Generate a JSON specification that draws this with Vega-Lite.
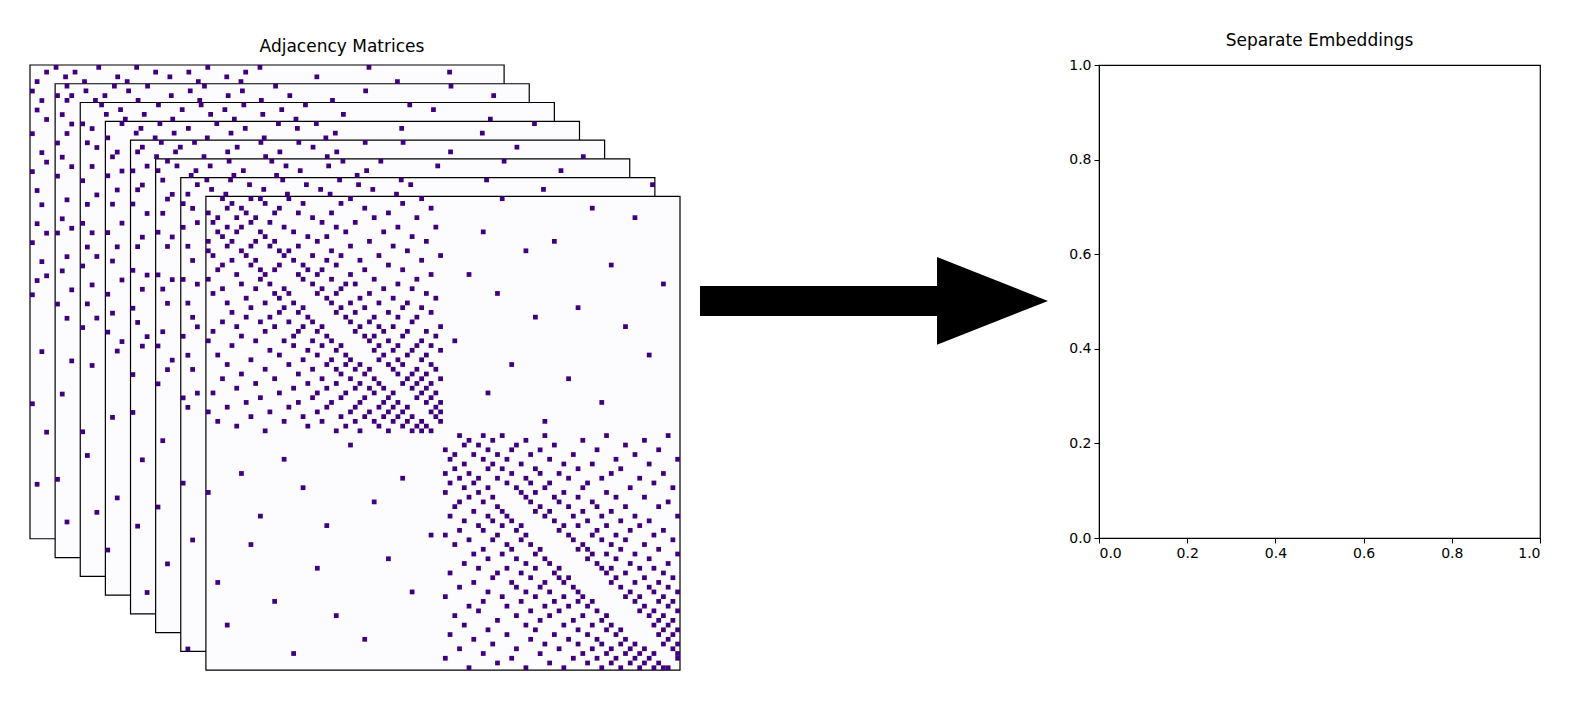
{
  "$schema": "https://vega.github.io/schema/vega-lite/v6.json",
  "padding": {"left": 29, "top": 31, "right": 0, "bottom": 0},
  "background": "white",
  "config": {"view": {"stroke": null}, "font": "DejaVu Sans", "title": {"fontSize": 17, "fontWeight": "normal", "color": "black", "offset": 8}},
  "spacing": 19,
  "datasets": {
    "edges": [
      {"k":0,"i":0,"j":5},{"k":0,"i":0,"j":14},{"k":0,"i":0,"j":22},{"k":0,"i":0,"j":37},{"k":0,"i":0,"j":48},{"k":0,"i":0,"j":71},
      {"k":0,"i":1,"j":3},{"k":0,"i":1,"j":9},{"k":0,"i":1,"j":26},{"k":0,"i":1,"j":33},{"k":0,"i":1,"j":45},{"k":0,"i":1,"j":88},
      {"k":0,"i":2,"j":7},{"k":0,"i":2,"j":18},{"k":0,"i":2,"j":29},{"k":0,"i":2,"j":41},{"k":0,"i":2,"j":60},
      {"k":0,"i":3,"j":11},{"k":0,"i":3,"j":20},{"k":0,"i":3,"j":35},{"k":0,"i":3,"j":44},{"k":0,"i":3,"j":77},
      {"k":1,"i":0,"j":2},{"k":1,"i":0,"j":12},{"k":1,"i":0,"j":19},{"k":1,"i":0,"j":31},{"k":1,"i":0,"j":46},{"k":1,"i":0,"j":83},
      {"k":1,"i":1,"j":6},{"k":1,"i":1,"j":15},{"k":1,"i":1,"j":28},{"k":1,"i":1,"j":39},{"k":1,"i":1,"j":65},
      {"k":1,"i":2,"j":3},{"k":1,"i":2,"j":10},{"k":1,"i":2,"j":24},{"k":1,"i":2,"j":36},{"k":1,"i":2,"j":49},{"k":1,"i":2,"j":92},
      {"k":1,"i":3,"j":8},{"k":1,"i":3,"j":17},{"k":1,"i":3,"j":30},{"k":1,"i":3,"j":43},{"k":1,"i":3,"j":58},
      {"k":2,"i":0,"j":4},{"k":2,"i":0,"j":16},{"k":2,"i":0,"j":25},{"k":2,"i":0,"j":34},{"k":2,"i":0,"j":47},{"k":2,"i":0,"j":69},
      {"k":2,"i":1,"j":8},{"k":2,"i":1,"j":21},{"k":2,"i":1,"j":30},{"k":2,"i":1,"j":42},{"k":2,"i":1,"j":74},
      {"k":2,"i":2,"j":5},{"k":2,"i":2,"j":13},{"k":2,"i":2,"j":27},{"k":2,"i":2,"j":38},{"k":2,"i":2,"j":55},
      {"k":2,"i":3,"j":9},{"k":2,"i":3,"j":19},{"k":2,"i":3,"j":32},{"k":2,"i":3,"j":45},{"k":2,"i":3,"j":86},
      {"k":3,"i":0,"j":3},{"k":3,"i":0,"j":11},{"k":3,"i":0,"j":23},{"k":3,"i":0,"j":36},{"k":3,"i":0,"j":44},{"k":3,"i":0,"j":90},
      {"k":3,"i":1,"j":7},{"k":3,"i":1,"j":17},{"k":3,"i":1,"j":29},{"k":3,"i":1,"j":40},{"k":3,"i":1,"j":62},
      {"k":3,"i":2,"j":6},{"k":3,"i":2,"j":14},{"k":3,"i":2,"j":26},{"k":3,"i":2,"j":48},{"k":3,"i":2,"j":79},
      {"k":3,"i":3,"j":10},{"k":3,"i":3,"j":21},{"k":3,"i":3,"j":33},{"k":3,"i":3,"j":46},
      {"k":4,"i":0,"j":6},{"k":4,"i":0,"j":13},{"k":4,"i":0,"j":27},{"k":4,"i":0,"j":35},{"k":4,"i":0,"j":49},{"k":4,"i":0,"j":57},
      {"k":4,"i":1,"j":2},{"k":4,"i":1,"j":10},{"k":4,"i":1,"j":22},{"k":4,"i":1,"j":38},{"k":4,"i":1,"j":81},
      {"k":4,"i":2,"j":9},{"k":4,"i":2,"j":20},{"k":4,"i":2,"j":31},{"k":4,"i":2,"j":43},{"k":4,"i":2,"j":67},
      {"k":4,"i":3,"j":5},{"k":4,"i":3,"j":15},{"k":4,"i":3,"j":28},{"k":4,"i":3,"j":41},{"k":4,"i":3,"j":95},
      {"k":5,"i":0,"j":2},{"k":5,"i":0,"j":15},{"k":5,"i":0,"j":24},{"k":5,"i":0,"j":39},{"k":5,"i":0,"j":47},{"k":5,"i":0,"j":73},
      {"k":5,"i":1,"j":4},{"k":5,"i":1,"j":11},{"k":5,"i":1,"j":27},{"k":5,"i":1,"j":36},{"k":5,"i":1,"j":59},
      {"k":5,"i":2,"j":8},{"k":5,"i":2,"j":18},{"k":5,"i":2,"j":30},{"k":5,"i":2,"j":44},{"k":5,"i":2,"j":85},
      {"k":5,"i":3,"j":7},{"k":5,"i":3,"j":16},{"k":5,"i":3,"j":25},{"k":5,"i":3,"j":42},
      {"k":6,"i":0,"j":5},{"k":6,"i":0,"j":10},{"k":6,"i":0,"j":21},{"k":6,"i":0,"j":33},{"k":6,"i":0,"j":46},{"k":6,"i":0,"j":64},
      {"k":6,"i":1,"j":3},{"k":6,"i":1,"j":14},{"k":6,"i":1,"j":26},{"k":6,"i":1,"j":37},{"k":6,"i":1,"j":48},{"k":6,"i":1,"j":99},
      {"k":6,"i":2,"j":6},{"k":6,"i":2,"j":17},{"k":6,"i":2,"j":29},{"k":6,"i":2,"j":40},{"k":6,"i":2,"j":76},
      {"k":6,"i":3,"j":9},{"k":6,"i":3,"j":22},{"k":6,"i":3,"j":31},{"k":6,"i":3,"j":45},
      {"k":7,"i":0,"j":3},{"k":7,"i":0,"j":9},{"k":7,"i":0,"j":11},{"k":7,"i":0,"j":17},{"k":7,"i":0,"j":30},{"k":7,"i":0,"j":45},{"k":7,"i":0,"j":62},
      {"k":7,"i":1,"j":5},{"k":7,"i":1,"j":12},{"k":7,"i":1,"j":20},{"k":7,"i":1,"j":28},{"k":7,"i":1,"j":41},
      {"k":7,"i":2,"j":4},{"k":7,"i":2,"j":7},{"k":7,"i":2,"j":15},{"k":7,"i":2,"j":33},{"k":7,"i":2,"j":47},{"k":7,"i":2,"j":81},
      {"k":7,"i":3,"j":8},{"k":7,"i":3,"j":14},{"k":7,"i":3,"j":19},{"k":7,"i":3,"j":26},{"k":7,"i":3,"j":38},
      {"k":7,"i":4,"j":6},{"k":7,"i":4,"j":10},{"k":7,"i":4,"j":22},{"k":7,"i":4,"j":35},{"k":7,"i":4,"j":44},{"k":7,"i":4,"j":90},
      {"k":7,"i":5,"j":9},{"k":7,"i":5,"j":13},{"k":7,"i":5,"j":24},{"k":7,"i":5,"j":31},
      {"k":7,"i":6,"j":7},{"k":7,"i":6,"j":16},{"k":7,"i":6,"j":27},{"k":7,"i":6,"j":40},{"k":7,"i":6,"j":48},
      {"k":7,"i":7,"j":11},{"k":7,"i":7,"j":18},{"k":7,"i":7,"j":29},{"k":7,"i":7,"j":37},{"k":7,"i":7,"j":58},
      {"k":7,"i":8,"j":12},{"k":7,"i":8,"j":21},{"k":7,"i":8,"j":25},{"k":7,"i":8,"j":43},
      {"k":7,"i":9,"j":10},{"k":7,"i":9,"j":14},{"k":7,"i":9,"j":23},{"k":7,"i":9,"j":34},{"k":7,"i":9,"j":46},{"k":7,"i":9,"j":73},
      {"k":7,"i":10,"j":13},{"k":7,"i":10,"j":19},{"k":7,"i":10,"j":30},{"k":7,"i":10,"j":39},
      {"k":7,"i":11,"j":15},{"k":7,"i":11,"j":17},{"k":7,"i":11,"j":26},{"k":7,"i":11,"j":42},{"k":7,"i":11,"j":67},
      {"k":7,"i":12,"j":16},{"k":7,"i":12,"j":22},{"k":7,"i":12,"j":28},{"k":7,"i":12,"j":36},{"k":7,"i":12,"j":49},
      {"k":7,"i":13,"j":18},{"k":7,"i":13,"j":25},{"k":7,"i":13,"j":32},{"k":7,"i":13,"j":45},
      {"k":7,"i":14,"j":15},{"k":7,"i":14,"j":20},{"k":7,"i":14,"j":27},{"k":7,"i":14,"j":38},{"k":7,"i":14,"j":85},
      {"k":7,"i":15,"j":21},{"k":7,"i":15,"j":24},{"k":7,"i":15,"j":33},{"k":7,"i":15,"j":41},
      {"k":7,"i":16,"j":19},{"k":7,"i":16,"j":23},{"k":7,"i":16,"j":30},{"k":7,"i":16,"j":47},{"k":7,"i":16,"j":55},
      {"k":7,"i":17,"j":20},{"k":7,"i":17,"j":26},{"k":7,"i":17,"j":35},{"k":7,"i":17,"j":44},
      {"k":7,"i":18,"j":22},{"k":7,"i":18,"j":29},{"k":7,"i":18,"j":31},{"k":7,"i":18,"j":40},{"k":7,"i":18,"j":96},
      {"k":7,"i":19,"j":24},{"k":7,"i":19,"j":28},{"k":7,"i":19,"j":37},{"k":7,"i":19,"j":43},
      {"k":7,"i":20,"j":23},{"k":7,"i":20,"j":27},{"k":7,"i":20,"j":34},{"k":7,"i":20,"j":46},{"k":7,"i":20,"j":61},
      {"k":7,"i":21,"j":25},{"k":7,"i":21,"j":32},{"k":7,"i":21,"j":39},{"k":7,"i":21,"j":48},
      {"k":7,"i":22,"j":26},{"k":7,"i":22,"j":30},{"k":7,"i":22,"j":36},{"k":7,"i":22,"j":42},
      {"k":7,"i":23,"j":28},{"k":7,"i":23,"j":33},{"k":7,"i":23,"j":41},{"k":7,"i":23,"j":45},{"k":7,"i":23,"j":78},
      {"k":7,"i":24,"j":27},{"k":7,"i":24,"j":31},{"k":7,"i":24,"j":38},{"k":7,"i":24,"j":47},
      {"k":7,"i":25,"j":29},{"k":7,"i":25,"j":35},{"k":7,"i":25,"j":40},{"k":7,"i":25,"j":44},{"k":7,"i":25,"j":69},
      {"k":7,"i":26,"j":30},{"k":7,"i":26,"j":34},{"k":7,"i":26,"j":43},
      {"k":7,"i":27,"j":32},{"k":7,"i":27,"j":36},{"k":7,"i":27,"j":39},{"k":7,"i":27,"j":49},{"k":7,"i":27,"j":88},
      {"k":7,"i":28,"j":31},{"k":7,"i":28,"j":37},{"k":7,"i":28,"j":42},{"k":7,"i":28,"j":46},
      {"k":7,"i":29,"j":33},{"k":7,"i":29,"j":35},{"k":7,"i":29,"j":41},{"k":7,"i":29,"j":48},
      {"k":7,"i":30,"j":34},{"k":7,"i":30,"j":38},{"k":7,"i":30,"j":45},{"k":7,"i":30,"j":52},
      {"k":7,"i":31,"j":36},{"k":7,"i":31,"j":40},{"k":7,"i":31,"j":44},{"k":7,"i":31,"j":47},
      {"k":7,"i":32,"j":35},{"k":7,"i":32,"j":39},{"k":7,"i":32,"j":43},{"k":7,"i":32,"j":49},
      {"k":7,"i":33,"j":37},{"k":7,"i":33,"j":42},{"k":7,"i":33,"j":46},{"k":7,"i":33,"j":93},
      {"k":7,"i":34,"j":36},{"k":7,"i":34,"j":40},{"k":7,"i":34,"j":45},
      {"k":7,"i":35,"j":38},{"k":7,"i":35,"j":41},{"k":7,"i":35,"j":47},{"k":7,"i":35,"j":64},
      {"k":7,"i":36,"j":39},{"k":7,"i":36,"j":44},{"k":7,"i":36,"j":48},
      {"k":7,"i":37,"j":40},{"k":7,"i":37,"j":43},{"k":7,"i":37,"j":46},
      {"k":7,"i":38,"j":42},{"k":7,"i":38,"j":45},{"k":7,"i":38,"j":49},{"k":7,"i":38,"j":76},
      {"k":7,"i":39,"j":41},{"k":7,"i":39,"j":44},{"k":7,"i":39,"j":47},
      {"k":7,"i":40,"j":43},{"k":7,"i":40,"j":46},
      {"k":7,"i":41,"j":45},{"k":7,"i":41,"j":48},{"k":7,"i":41,"j":59},
      {"k":7,"i":42,"j":44},{"k":7,"i":42,"j":47},
      {"k":7,"i":43,"j":46},{"k":7,"i":43,"j":49},{"k":7,"i":43,"j":83},
      {"k":7,"i":44,"j":48},{"k":7,"i":45,"j":47},{"k":7,"i":45,"j":49},{"k":7,"i":46,"j":48},
      {"k":7,"i":47,"j":49},{"k":7,"i":47,"j":71},
      {"k":7,"i":50,"j":53},{"k":7,"i":50,"j":58},{"k":7,"i":50,"j":62},{"k":7,"i":50,"j":71},{"k":7,"i":50,"j":84},{"k":7,"i":50,"j":97},
      {"k":7,"i":51,"j":55},{"k":7,"i":51,"j":60},{"k":7,"i":51,"j":67},{"k":7,"i":51,"j":79},{"k":7,"i":51,"j":92},
      {"k":7,"i":52,"j":54},{"k":7,"i":52,"j":57},{"k":7,"i":52,"j":65},{"k":7,"i":52,"j":73},{"k":7,"i":52,"j":88},
      {"k":7,"i":53,"j":59},{"k":7,"i":53,"j":64},{"k":7,"i":53,"j":70},{"k":7,"i":53,"j":82},{"k":7,"i":53,"j":95},
      {"k":7,"i":54,"j":56},{"k":7,"i":54,"j":61},{"k":7,"i":54,"j":68},{"k":7,"i":54,"j":77},{"k":7,"i":54,"j":90},
      {"k":7,"i":55,"j":58},{"k":7,"i":55,"j":63},{"k":7,"i":55,"j":72},{"k":7,"i":55,"j":86},{"k":7,"i":55,"j":99},
      {"k":7,"i":56,"j":60},{"k":7,"i":56,"j":66},{"k":7,"i":56,"j":75},{"k":7,"i":56,"j":81},{"k":7,"i":56,"j":93},
      {"k":7,"i":57,"j":59},{"k":7,"i":57,"j":62},{"k":7,"i":57,"j":69},{"k":7,"i":57,"j":78},{"k":7,"i":57,"j":87},
      {"k":7,"i":58,"j":64},{"k":7,"i":58,"j":70},{"k":7,"i":58,"j":74},{"k":7,"i":58,"j":85},{"k":7,"i":58,"j":96},
      {"k":7,"i":59,"j":61},{"k":7,"i":59,"j":67},{"k":7,"i":59,"j":76},{"k":7,"i":59,"j":83},{"k":7,"i":59,"j":91},
      {"k":7,"i":60,"j":63},{"k":7,"i":60,"j":68},{"k":7,"i":60,"j":72},{"k":7,"i":60,"j":80},{"k":7,"i":60,"j":94},
      {"k":7,"i":61,"j":65},{"k":7,"i":61,"j":71},{"k":7,"i":61,"j":79},{"k":7,"i":61,"j":89},{"k":7,"i":61,"j":98},
      {"k":7,"i":62,"j":66},{"k":7,"i":62,"j":69},{"k":7,"i":62,"j":75},{"k":7,"i":62,"j":84},
      {"k":7,"i":63,"j":67},{"k":7,"i":63,"j":73},{"k":7,"i":63,"j":78},{"k":7,"i":63,"j":86},{"k":7,"i":63,"j":92},
      {"k":7,"i":64,"j":68},{"k":7,"i":64,"j":74},{"k":7,"i":64,"j":81},{"k":7,"i":64,"j":97},
      {"k":7,"i":65,"j":70},{"k":7,"i":65,"j":76},{"k":7,"i":65,"j":82},{"k":7,"i":65,"j":88},{"k":7,"i":65,"j":95},
      {"k":7,"i":66,"j":69},{"k":7,"i":66,"j":72},{"k":7,"i":66,"j":79},{"k":7,"i":66,"j":85},
      {"k":7,"i":67,"j":71},{"k":7,"i":67,"j":77},{"k":7,"i":67,"j":83},{"k":7,"i":67,"j":90},{"k":7,"i":67,"j":99},
      {"k":7,"i":68,"j":73},{"k":7,"i":68,"j":80},{"k":7,"i":68,"j":87},{"k":7,"i":68,"j":93},
      {"k":7,"i":69,"j":75},{"k":7,"i":69,"j":78},{"k":7,"i":69,"j":84},{"k":7,"i":69,"j":91},
      {"k":7,"i":70,"j":74},{"k":7,"i":70,"j":82},{"k":7,"i":70,"j":89},{"k":7,"i":70,"j":96},
      {"k":7,"i":71,"j":76},{"k":7,"i":71,"j":81},{"k":7,"i":71,"j":86},{"k":7,"i":71,"j":94},
      {"k":7,"i":72,"j":77},{"k":7,"i":72,"j":83},{"k":7,"i":72,"j":88},{"k":7,"i":72,"j":98},
      {"k":7,"i":73,"j":79},{"k":7,"i":73,"j":85},{"k":7,"i":73,"j":92},
      {"k":7,"i":74,"j":78},{"k":7,"i":74,"j":80},{"k":7,"i":74,"j":87},{"k":7,"i":74,"j":95},
      {"k":7,"i":75,"j":81},{"k":7,"i":75,"j":84},{"k":7,"i":75,"j":90},{"k":7,"i":75,"j":99},
      {"k":7,"i":76,"j":80},{"k":7,"i":76,"j":86},{"k":7,"i":76,"j":93},
      {"k":7,"i":77,"j":82},{"k":7,"i":77,"j":89},{"k":7,"i":77,"j":97},
      {"k":7,"i":78,"j":83},{"k":7,"i":78,"j":85},{"k":7,"i":78,"j":91},{"k":7,"i":78,"j":94},
      {"k":7,"i":79,"j":84},{"k":7,"i":79,"j":88},{"k":7,"i":79,"j":96},
      {"k":7,"i":80,"j":86},{"k":7,"i":80,"j":92},{"k":7,"i":80,"j":98},
      {"k":7,"i":81,"j":85},{"k":7,"i":81,"j":90},{"k":7,"i":81,"j":95},
      {"k":7,"i":82,"j":87},{"k":7,"i":82,"j":93},{"k":7,"i":82,"j":97},
      {"k":7,"i":83,"j":89},{"k":7,"i":83,"j":94},{"k":7,"i":83,"j":99},
      {"k":7,"i":84,"j":88},{"k":7,"i":84,"j":91},{"k":7,"i":84,"j":96},
      {"k":7,"i":85,"j":90},{"k":7,"i":85,"j":95},{"k":7,"i":85,"j":98},
      {"k":7,"i":86,"j":92},{"k":7,"i":86,"j":97},
      {"k":7,"i":87,"j":91},{"k":7,"i":87,"j":94},{"k":7,"i":87,"j":99},
      {"k":7,"i":88,"j":93},{"k":7,"i":88,"j":96},{"k":7,"i":89,"j":95},{"k":7,"i":89,"j":98},
      {"k":7,"i":90,"j":94},{"k":7,"i":90,"j":97},{"k":7,"i":91,"j":96},{"k":7,"i":91,"j":99},
      {"k":7,"i":92,"j":95},{"k":7,"i":92,"j":98},{"k":7,"i":93,"j":97},{"k":7,"i":94,"j":96},
      {"k":7,"i":94,"j":99},{"k":7,"i":95,"j":98},{"k":7,"i":96,"j":99},{"k":7,"i":97,"j":99}
    ]
  },
  "hconcat": [
    {
      "title": {"text": "Adjacency Matrices", "dx": -13},
      "width": 650,
      "height": 605,
      "layer": [
        {
          "data": {"values": [{"k":0},{"k":1},{"k":2},{"k":3},{"k":4},{"k":5},{"k":6},{"k":7}]},
          "transform": [
            {"calculate": "datum.k * 5.3", "as": "x"},
            {"calculate": "datum.k * 5.3 + 100", "as": "x1"},
            {"calculate": "datum.k * 3.96", "as": "y"},
            {"calculate": "datum.k * 3.96 + 100", "as": "y1"}
          ],
          "mark": {"type": "rect", "fill": "#fcfbfd", "stroke": "black", "strokeWidth": 1.2},
          "encoding": {
            "x": {"field": "x", "type": "quantitative", "scale": {"domain": [0, 137.1], "nice": false, "zero": false}, "axis": null},
            "x2": {"field": "x1"},
            "y": {"field": "y", "type": "quantitative", "scale": {"domain": [0, 127.7], "nice": false, "zero": false, "reverse": true}, "axis": null},
            "y2": {"field": "y1"},
            "order": {"field": "k", "type": "quantitative"}
          }
        },
        {
          "data": {"name": "edges"},
          "transform": [
            {"calculate": "datum.k * 5.3 + datum.j", "as": "x"},
            {"calculate": "datum.k * 5.3 + datum.j + 1", "as": "x1"},
            {"calculate": "datum.k * 3.96 + datum.i", "as": "y"},
            {"calculate": "datum.k * 3.96 + datum.i + 1", "as": "y1"}
          ],
          "mark": {"type": "rect", "fill": "#3f007d", "strokeWidth": 0},
          "encoding": {
            "x": {"field": "x", "type": "quantitative"},
            "x2": {"field": "x1"},
            "y": {"field": "y", "type": "quantitative"},
            "y2": {"field": "y1"}
          }
        },
        {
          "data": {"name": "edges"},
          "transform": [
            {"calculate": "datum.k * 5.3 + datum.i", "as": "x"},
            {"calculate": "datum.k * 5.3 + datum.i + 1", "as": "x1"},
            {"calculate": "datum.k * 3.96 + datum.j", "as": "y"},
            {"calculate": "datum.k * 3.96 + datum.j + 1", "as": "y1"}
          ],
          "mark": {"type": "rect", "fill": "#3f007d", "strokeWidth": 0},
          "encoding": {
            "x": {"field": "x", "type": "quantitative"},
            "x2": {"field": "x1"},
            "y": {"field": "y", "type": "quantitative"},
            "y2": {"field": "y1"}
          }
        }
      ]
    },
    {
      "width": 290,
      "height": 605,
      "layer": [
        {
          "data": {"values": [{"x": 0, "x1": 0.681, "lo": -0.0496, "hi": 0.0496}]},
          "mark": {"type": "rect", "fill": "black"},
          "encoding": {
            "x": {"field": "x", "type": "quantitative", "scale": {"domain": [0, 0.8333], "nice": false, "zero": false}, "axis": null},
            "x2": {"field": "x1"},
            "y": {"field": "lo", "type": "quantitative", "scale": {"domain": [-1.22, 0.78], "nice": false, "zero": false}, "axis": null},
            "y2": {"field": "hi"}
          }
        },
        {
          "data": {"values": [{"x": 0.681, "lo": -0.145, "hi": 0.145}, {"x": 1, "lo": 0, "hi": 0}]},
          "mark": {"type": "area", "fill": "black", "clip": false},
          "encoding": {
            "x": {"field": "x", "type": "quantitative"},
            "y": {"field": "lo", "type": "quantitative"},
            "y2": {"field": "hi"}
          }
        }
      ]
    },
    {
      "title": "Separate Embeddings",
      "width": 441,
      "height": 473,
      "view": {"stroke": "black", "strokeWidth": 1.2},
      "data": {"values": [{"x": 0, "y": 0}]},
      "mark": {"type": "point", "opacity": 0},
      "encoding": {
        "x": {"field": "x", "type": "quantitative", "scale": {"domain": [0, 1], "nice": false}, "axis": {"values": [0, 0.2, 0.4, 0.6, 0.8, 1], "format": ".1f", "grid": false, "domainColor": "black", "tickColor": "black", "labelColor": "black", "labelFontSize": 14, "title": null, "tickSize": 5, "labelPadding": 3}},
        "y": {"field": "y", "type": "quantitative", "scale": {"domain": [0, 1], "nice": false}, "axis": {"values": [0, 0.2, 0.4, 0.6, 0.8, 1], "format": ".1f", "grid": false, "domainColor": "black", "tickColor": "black", "labelColor": "black", "labelFontSize": 14, "title": null, "tickSize": 5, "labelPadding": 3}}
      }
    }
  ]
}
